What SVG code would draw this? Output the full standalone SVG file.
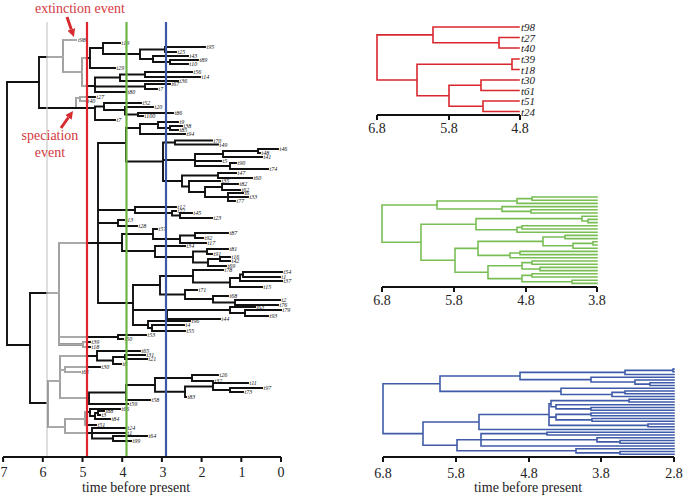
<svg xmlns="http://www.w3.org/2000/svg" width="684" height="497" viewBox="0 0 684 497">
<defs>
<style>
.tl{fill:none;stroke-width:1.9;stroke-linecap:square}
.rt{fill:none;stroke-width:1.6;stroke-linecap:square}
.lab{font-family:"Liberation Serif","Times New Roman",serif;font-style:italic;font-size:6px;fill:#111}
.rlab{font-family:"Liberation Serif","Times New Roman",serif;font-style:italic;font-size:11px;fill:#222}
.ax{font-family:"Liberation Serif","Times New Roman",serif;font-size:14px;fill:#222;text-anchor:middle}
.ann{font-family:"Liberation Serif","Times New Roman",serif;font-size:14px;fill:#d33a3f}
.axl{fill:none;stroke:#111;stroke-width:2}
</style>
<clipPath id="win"><rect x="47.6" y="0" width="39" height="497"/></clipPath>
<marker id="ah" viewBox="0 0 10 10" refX="0" refY="5" markerWidth="8" markerHeight="8" markerUnits="userSpaceOnUse" orient="auto"><path d="M0,0L10,5L0,10z" fill="#d62b2f"/></marker>
</defs>
<rect width="684" height="497" fill="#fff"/>

<g id="left-tree">
<g stroke="#111">
<g id="treeshape" class="tl">
<path d="M7,82V345M7,82H39M7,345H30"/>
<path d="M39,57V108M39,57H63M39,108H95"/>
<path d="M63,40V72M63,40H76M63,72H82"/>
<path d="M82,58V86M82,58H90M82,86H95"/>
<path d="M90,48V68M90,48H103M90,68H115"/>
<path d="M103,43V54M103,43H120M103,54H140"/>
<path d="M140,49.5V59M140,49.5H165M140,59H153"/>
<path d="M165,47V52M165,47H205M165,52H176"/>
<path d="M153,56V62M153,56H188M153,62H170"/>
<path d="M170,60V64M170,60H198M170,64H188"/>
<path d="M95,77.5V92M95,77.5H120M95,86.5H145M95,92H126"/>
<path d="M120,74.5V81M120,74.5H145M120,81H178"/>
<path d="M145,72V77M145,72H192M145,77H200"/>
<path d="M145,84V89M145,84H170M145,89H157"/>
<path d="M76,98V108M76,98H80"/>
<path d="M80,97V101M80,97H95M80,101H86"/>
<path d="M95,106.5V120M95,106.5H104M95,120H115"/>
<path d="M104,103V110M104,103H141M104,110H125"/>
<path d="M125,107V114.5M125,107H153M125,114.5H138"/>
<path d="M138,113V116M138,113H173M138,116H143"/>
<path d="M30,293V403M30,293H59M30,403H48"/>
<path d="M59,243V344.5M59,243H122M59,337H118M59,344.5H83"/>
<path d="M98,143V303M98,143H126M98,210H135M98,223H118M98,303H133"/>
<path d="M126,128V161.5M126,128H140M126,161.5H163"/>
<path d="M140,124V134M140,124H158M140,134H185"/>
<path d="M158,122V128M158,122H178M158,128H170"/>
<path d="M170,126V130M170,126H182M170,130H178"/>
<path d="M163,142.5V181M163,142.5H175M163,160H195M163,181H182"/>
<path d="M175,140.5V144.5M175,140.5H212M175,144.5H218"/>
<path d="M195,154V166M195,154H223M195,161H221M195,166H230"/>
<path d="M223,151V157M223,151H258M223,157H262"/>
<path d="M258,149V153M258,149H278M258,153H260"/>
<path d="M230,163V169M230,163H236M230,169H268"/>
<path d="M182,175.5V186.5M182,175.5H218M182,186.5H189"/>
<path d="M218,173V178M218,173H236M218,178H252"/>
<path d="M189,181V192M189,181H220M189,192H205"/>
<path d="M205,187V197M205,187H222M205,197H228"/>
<path d="M222,184V190M222,184H238M222,190H240"/>
<path d="M228,193V201M228,193H243M228,197H248M228,201H235"/>
<path d="M135,207V213M135,207H176M135,213H172"/>
<path d="M172,211V215.5M172,211H176M172,215.5H180"/>
<path d="M180,213V218M180,213H192M180,218H212"/>
<path d="M118,220V226M118,220H124M118,226H137"/>
<path d="M122,234V251M122,234H153M122,251H155"/>
<path d="M153,229V239M153,229H157M153,239H180"/>
<path d="M180,235.5V243M180,235.5H195M180,243H206"/>
<path d="M195,233V238M195,233H228M195,238H203"/>
<path d="M155,246V257M155,246H185M155,257H193"/>
<path d="M193,251.5V262.5M193,251.5H207M193,262.5H208"/>
<path d="M207,249V254M207,249H228M207,254H212"/>
<path d="M208,259V266M208,259H220M208,266H226"/>
<path d="M220,257V261M220,257H230M220,261H230"/>
<path d="M133,285V325M133,285H160M133,310H167M133,325H148"/>
<path d="M160,276V294.5M160,276H193M160,294.5H185"/>
<path d="M193,270V282.5M193,270H223M193,282.5H230"/>
<path d="M230,278V287M230,278H240M230,287H262"/>
<path d="M240,274.5V281M240,274.5H243M240,281H282"/>
<path d="M243,272V277M243,272H282M243,277H280"/>
<path d="M185,290V299M185,290H197M185,299H213"/>
<path d="M213,296V302.5M213,296H228M213,302.5H235"/>
<path d="M235,300V305M235,300H280M235,305H278"/>
<path d="M167,310V319M167,310H230M167,319H220"/>
<path d="M230,307V313M230,307H255M230,313H245"/>
<path d="M245,310V316M245,310H281M245,316H268"/>
<path d="M148,321V328M148,321H190M148,328H152"/>
<path d="M152,325V331M152,325H184M152,331H185"/>
<path d="M118,335V339M118,335H146M118,339H123"/>
<path d="M83,342V347M83,342H90M83,347H90"/>
<path d="M48,381V427M48,381H60M48,427H65"/>
<path d="M60,356V398M60,356H97M60,370H65M60,398H89"/>
<path d="M97,351V360.5M97,351H140M97,360.5H113"/>
<path d="M113,357V364M113,357H125M113,364H121"/>
<path d="M125,355V359M125,355H145M125,359H147"/>
<path d="M65,367V372M65,367H100M65,372H80"/>
<path d="M89,392.5V404M89,392.5H126M89,404H128"/>
<path d="M126,385V400M126,385H155M126,400H150"/>
<path d="M155,378V391.75M155,378H192M155,391.75H185"/>
<path d="M192,375V381M192,375H218M192,381H213"/>
<path d="M185,386.5V397M185,386.5H213M185,397H186"/>
<path d="M213,383V390M213,383H248M213,390H230"/>
<path d="M230,388V392M230,388H262M230,392H243"/>
<path d="M65,419V433M65,419H85M65,433H92"/>
<path d="M85,412V425M85,412H90M85,425H96"/>
<path d="M90,409V416M90,409H120M90,416H95"/>
<path d="M95,413V419M95,413H98M95,419H110"/>
<path d="M98,411V415M98,411H104M98,415H100"/>
<path d="M92,428V438.5M92,428H126M92,433H126M92,438.5H113"/>
<path d="M113,436V441M113,436H147M113,441H131"/>
</g>
</g>
<use href="#treeshape" stroke="#a9a9a9" clip-path="url(#win)"/>
<path class="tl" stroke="#111" d="M39,108H95"/>
</g>

<g id="tip-labels" class="lab">
<text x="78" y="42">t98</text><text x="121.5" y="45">t19</text><text x="206.5" y="49">t95</text><text x="177.5" y="54">t25</text><text x="189.5" y="58">t43</text><text x="199.5" y="62">t89</text><text x="189.5" y="66">t10</text><text x="116.5" y="70">t29</text><text x="193.5" y="74">t56</text><text x="201.5" y="79">t14</text><text x="179.5" y="83">t36</text><text x="171.5" y="86">t67</text><text x="158.5" y="91">t7</text><text x="127.5" y="94">t80</text><text x="96.5" y="99">t27</text><text x="87.5" y="103">t40</text><text x="142.5" y="105">t52</text><text x="154.5" y="109">t20</text><text x="174.5" y="115">t86</text><text x="144.5" y="118">t100</text><text x="116.5" y="122">t7</text>
<text x="179.5" y="124">t9</text><text x="183.5" y="128">t38</text><text x="179.5" y="132">t85</text><text x="186.5" y="136">t94</text><text x="213.5" y="142.5">t70</text><text x="219.5" y="146.5">t49</text><text x="279.5" y="151">t46</text><text x="261.5" y="155">t48</text><text x="263.5" y="159">t41</text><text x="222.5" y="163">t5</text><text x="237.5" y="165">t90</text><text x="269.5" y="171">t74</text><text x="237.5" y="175">t47</text><text x="253.5" y="180">t60</text><text x="221.5" y="183">t35</text><text x="239.5" y="186">t82</text><text x="241.5" y="191.5">t62</text><text x="244.5" y="195">t6</text><text x="249.5" y="199">t33</text><text x="236.5" y="203">t77</text>
<text x="177.5" y="208.5">t12</text><text x="177.5" y="212.5">t72</text><text x="193.5" y="215">t45</text><text x="213.5" y="220">t23</text><text x="125.5" y="222">t13</text><text x="138.5" y="228">t28</text><text x="158.5" y="231">t57</text><text x="229.5" y="235">t87</text><text x="204.5" y="240">t92</text><text x="207.5" y="245">t17</text><text x="186.5" y="248">t34</text><text x="229.5" y="251">t81</text><text x="213.5" y="256">t91</text><text x="231.5" y="259">t16</text><text x="231.5" y="263">t42</text><text x="227.5" y="268">t69</text><text x="224.5" y="272">t78</text><text x="283.5" y="274">t54</text><text x="281.5" y="279">t1</text><text x="283.5" y="283">t37</text><text x="263.5" y="289">t15</text><text x="198.5" y="292">t71</text><text x="229.5" y="298">t68</text><text x="281.5" y="302">t2</text><text x="279.5" y="307">t76</text><text x="256.5" y="309">t63</text><text x="282.5" y="312">t79</text><text x="269.5" y="318">t93</text><text x="221.5" y="321">t44</text><text x="191.5" y="323">t96</text><text x="185.5" y="327">t4</text><text x="186.5" y="333">t55</text>
<text x="147.5" y="337">t53</text><text x="124.5" y="341">t50</text><text x="91.5" y="344">t39</text><text x="91.5" y="349">t18</text><text x="141.5" y="353">t65</text><text x="146.5" y="357">t31</text><text x="148.5" y="361">t21</text><text x="122.5" y="366">t8</text><text x="101.5" y="369">t30</text><text x="81.5" y="374">t61</text><text x="219.5" y="377">t26</text><text x="214.5" y="383">t32</text><text x="249.5" y="385">t11</text><text x="263.5" y="390">t97</text><text x="244.5" y="394">t73</text><text x="187.5" y="399">t83</text><text x="151.5" y="402">t58</text><text x="129.5" y="406">t59</text><text x="121.5" y="411">t66</text><text x="105.5" y="413">t88</text><text x="101.5" y="417">t3</text><text x="111.5" y="421">t84</text><text x="97.5" y="427">t51</text><text x="127.5" y="430">t24</text><text x="127.5" y="435">t1</text><text x="148.5" y="438">t64</text><text x="132.5" y="443">t99</text>
</g>

<g id="time-lines" fill="none">
<line x1="47" y1="22" x2="47" y2="457" stroke="#c9c9c9" stroke-width="1.2"/>
<line x1="87" y1="22" x2="87" y2="457" stroke="#e0262c" stroke-width="2.2"/>
<line x1="126.5" y1="22" x2="126.5" y2="457" stroke="#6db544" stroke-width="2.2"/>
<line x1="166" y1="22" x2="166" y2="457" stroke="#3c57a6" stroke-width="2.2"/>
</g>

<g id="annotations">
<text class="ann" x="35" y="13">extinction event</text>
<line x1="67" y1="17" x2="71.3" y2="29.4" stroke="#d62b2f" stroke-width="3" marker-end="url(#ah)"/>
<text class="ann" x="50" y="140" text-anchor="middle">speciation</text>
<text class="ann" x="50" y="157" text-anchor="middle">event</text>
<line x1="61" y1="128" x2="68.4" y2="117.5" stroke="#d62b2f" stroke-width="3" marker-end="url(#ah)"/>
</g>

<g id="left-axis">
<path class="axl" d="M3,457H281M3.1,457V462M42.8,457V462M82.5,457V462M122.2,457V462M161.9,457V462M201.6,457V462M241.3,457V462M281,457V462"/>
<text class="ax" x="4" y="477">7</text><text class="ax" x="43" y="477">6</text><text class="ax" x="83" y="477">5</text><text class="ax" x="123" y="477">4</text><text class="ax" x="163" y="477">3</text><text class="ax" x="202" y="477">2</text><text class="ax" x="242" y="477">1</text><text class="ax" x="281" y="477">0</text>
<text class="ax" x="136" y="492">time before present</text>
</g>

<g id="red-tree">
<path class="rt" stroke="#d9272e" d="M499,37.5V48M499,37.5H519M499,48H519M433,27V42.75M433,27H519M433,42.75H499M512,59V69.5M512,59H519M512,69.5H519M481,80V90.5M481,80H519M481,90.5H519M483,101V111.5M483,101H519M483,111.5H519M449,85.25V106.25M449,85.25H481M449,106.25H483M417,64.25V95.75M417,64.25H512M417,95.75H449M377,34.9V80M377,34.9H433M377,80H417"/>
<g class="rlab">
<text x="521" y="31">t98</text><text x="521" y="41.5">t27</text><text x="521" y="52">t40</text><text x="521" y="63">t39</text><text x="521" y="73.5">t18</text><text x="521" y="84">t30</text><text x="521" y="94.5">t61</text><text x="521" y="105">t51</text><text x="521" y="115.5">t24</text>
</g>
<path class="axl" d="M377,115H520M377,115V120M449,115V120M520,115V120"/>
<text class="ax" x="377" y="133">6.8</text><text class="ax" x="449" y="133">5.8</text><text class="ax" x="520" y="133">4.8</text>
</g>

<g id="green-tree">
<path class="rt" stroke="#78be55" d="M532,197V200.2M532,197H597M532,200.2H597M517,198.6V203.4M517,198.6H532M517,203.4H597M531,209.8V213M531,209.8H597M531,213H597M502,206.6V211.4M502,206.6H597M502,211.4H531M437,201V209M437,201H517M437,209H502M588,219.4V222.6M588,219.4H597M588,222.6H597M582,216.2V221M582,216.2H597M582,221H588M522,225.8V229M522,225.8H597M522,229H597M517,227.4V232.2M517,227.4H522M517,232.2H597M476,218.6V229.8M476,218.6H582M476,229.8H517M565,235.4V238.6M565,235.4H597M565,238.6H597M593,241.8V245M593,241.8H597M593,245H597M573,243.4V248.2M573,243.4H593M573,248.2H597M543,237V245.8M543,237H565M543,245.8H573M520,251.4V254.6M520,251.4H597M520,254.6H597M510,253V257.8M510,253H520M510,257.8H597M478,241.4V255.4M478,241.4H543M478,255.4H510M532,261V264.2M532,261H597M532,264.2H597M540,267.4V270.6M540,267.4H597M540,270.6H597M522,262.6V269M522,262.6H532M522,269H540M532,273.8V277M532,273.8H597M532,277H597M572,280.2V283.4M572,280.2H597M572,283.4H597M522,275.4V281.8M522,275.4H532M522,281.8H572M488,265.8V278.6M488,265.8H522M488,278.6H522M455,248.4V272.2M455,248.4H478M455,272.2H488M421,224.2V260.3M421,224.2H476M421,260.3H455M382,205V242.25M382,205H437M382,242.25H421"/>
<path class="axl" d="M382,287H597M382,287V292M454,287V292M526,287V292M597,287V292"/>
<text class="ax" x="382" y="305">6.8</text><text class="ax" x="454" y="305">5.8</text><text class="ax" x="526" y="305">4.8</text><text class="ax" x="597" y="305">3.8</text>
</g>

<g id="blue-tree">
<path class="rt" stroke="#3f5ba9" d="M673,369V371.75M673,369H674M673,371.75H674M625,370.4V374.5M625,370.4H673M625,374.5H674M650,382.75V385.5M650,382.75H674M650,385.5H674M635,380V384.1M635,380H674M635,384.1H650M591,377.25V382.05M591,377.25H674M591,382.05H635M520,372.4V379.65M520,372.4H625M520,379.65H591M625,391V393.75M625,391H674M625,393.75H674M612,392.4V396.5M612,392.4H625M612,396.5H674M561,388.25V394.45M561,388.25H674M561,394.45H612M440,376V391.35M440,376H520M440,391.35H561M629,399.25V402M629,399.25H674M629,402H674M591,407.5V410.25M591,407.5H674M591,410.25H674M556,404.75V408.9M556,404.75H674M556,408.9H591M551,400.6V406.8M551,400.6H629M551,406.8H556M591,413V415.75M591,413H674M591,415.75H674M592,418.5V421.25M592,418.5H674M592,421.25H674M556,414.4V419.9M556,414.4H591M556,419.9H592M648,424V426.75M648,424H674M648,426.75H674M549,403.7V425.4M549,403.7H551M549,417.1H556M549,425.4H648M479,414.5V429.5M479,414.5H549M479,429.5H674M547,432.25V435M547,432.25H674M547,435H674M620,440.5V443.25M620,440.5H674M620,443.25H674M597,437.75V441.9M597,437.75H674M597,441.9H620M481,433.6V446M481,433.6H547M481,439.8H597M481,446H674M620,451.5V454.25M620,451.5H674M620,454.25H674M576,448.75V452.9M576,448.75H674M576,452.9H620M457,439.8V450.8M457,439.8H481M457,450.8H576M423,422V445.3M423,422H479M423,445.3H457M383,383.7V433.65M383,383.7H440M383,433.65H423"/>
<path class="axl" d="M383,457H674M383,457V462M456,457V462M529,457V462M601,457V462M674,457V462"/>
<text class="ax" x="383" y="478">6.8</text><text class="ax" x="456" y="478">5.8</text><text class="ax" x="529" y="478">4.8</text><text class="ax" x="601" y="478">3.8</text><text class="ax" x="674" y="478">2.8</text>
<text class="ax" x="528" y="492">time before present</text>
</g>
</svg>
